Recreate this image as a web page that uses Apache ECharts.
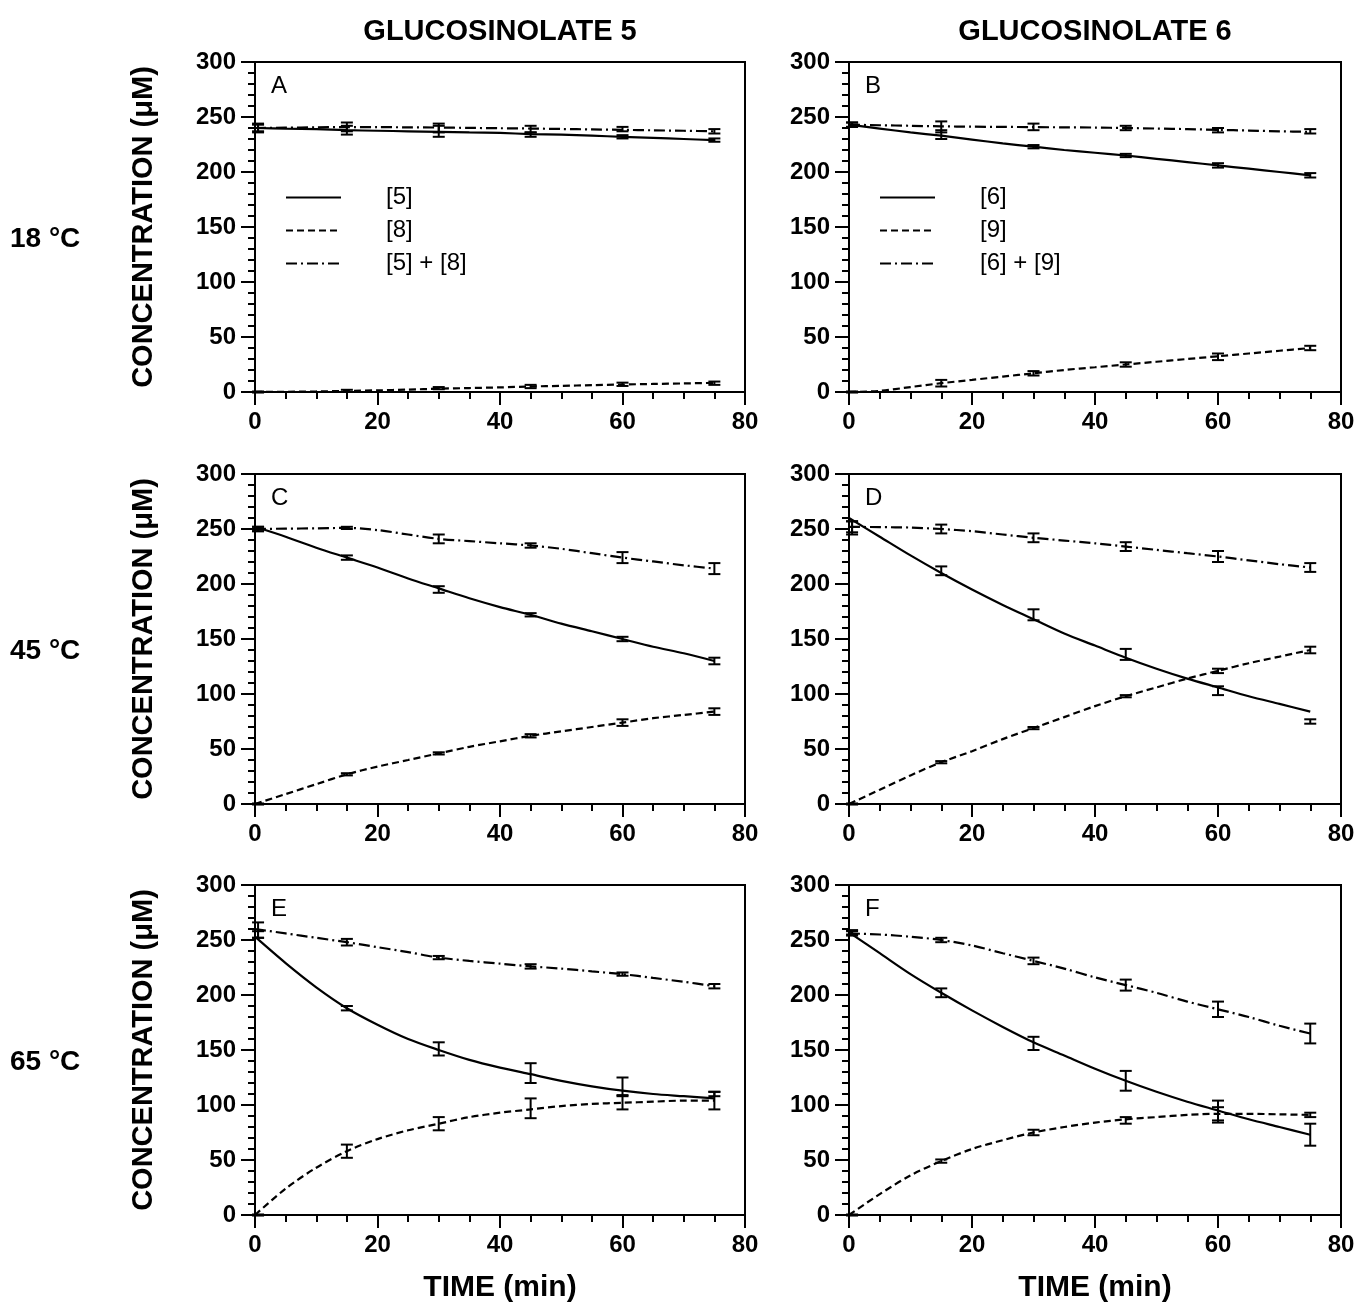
<!DOCTYPE html>
<html><head><meta charset="utf-8">
<script src="https://cdn.jsdelivr.net/npm/echarts@6/dist/echarts.min.js"></script>
<style>html,body{margin:0;padding:0;background:#fff}#c{width:1358px;height:1304px}</style>
</head><body><div id="c"></div>
<script>
// ---------- data ----------
const curveX = [0,5,10,15,20,25,30,35,40,45,50,55,60,65,70,75];
const pointX = [0.5,15,30,45,60,75];

// Panel A (glucosinolate 5, 18 °C)
const A_main = [240,239.5,239,238,237.5,237,236.5,236,235.5,234.5,234,233,232,231,230,229];
const A_prod = [0,0.2,0.5,1,1.5,2.2,3,3.6,4.2,5,5.6,6.2,6.8,7.3,7.8,8.3];
const A_sum  = [240,240.3,240.6,240.8,240.8,240.6,240.4,240.1,239.8,239.5,239.1,238.7,238.3,237.9,237.5,237];
const A_mainPts = [240,238,237,234,232,229], A_mainErr = [4,4,5,2,1.5,1.5];
const A_prodPts = [0,1,3.5,5,7,8],           A_prodErr = [0.5,1,1,1.5,1.5,1.5];
const A_sumPts  = [240,241,240,239,239,237], A_sumErr  = [3,4,4,3,2,2];

// Panel B (glucosinolate 6, 18 °C)
const B_main = [243,239.5,236,233,229.5,226,223,220,217.5,215,212,209,206,203,200,197];
const B_prod = [0,1,4.5,8,11,14,17,20,22.5,25,27.5,30,32.5,35,37.5,40];
const B_sum  = [243,242.5,242,241.5,241.2,241,240.8,240.6,240.4,240,239.5,239,238.3,237.7,237,236.5];
const B_mainPts = [243,234,223,215,206,197], B_mainErr = [2,4,1.5,1.5,2,2];
const B_prodPts = [0,8,17,25,32,40],         B_prodErr = [0.5,3,2,2,3,2];
const B_sumPts  = [243,241,241,240,238,237], B_sumErr  = [2,5,3,2,2,2];

// Panel C (glucosinolate 5, 45 °C)
const C_main = [252,243,233,224,215,205,196,187,179,172,164,157,150,143,137,130];
const C_prod = [0,9,18,27,34,40,46,52,57,62,66,70,74,78,81,84];
const C_sum  = [250,250.3,250.6,251,249,245,241,239,237,235,232,228,224,220.5,217,214];
const C_mainPts = [250,224,195,172,150,130], C_mainErr = [2,2,3,1.5,2,3];
const C_prodPts = [0,27,46,62,74,84],        C_prodErr = [0.5,1,1,1.5,3,3];
const C_sumPts  = [250,251,241,235,224,214], C_sumErr  = [2,1,4,2,5,5];

// Panel D (glucosinolate 6, 45 °C)
const D_main = [260,243,226,210,195,181,168,155,144,133,123,114,106,98,91,84];
const D_prod = [0,13,26,38,48,59,69,79,89,98,106,114,121,128,134,140];
const D_sum  = [252,251.7,251.3,250,248,245,242,239.5,237,234,231,228,225,221.5,218,215];
const D_mainPts = [252,212,172,136,103,75],  D_mainErr = [5,4,5,5,4,2];
const D_prodPts = [0,38,69,98,121,140],      D_prodErr = [0.5,1,1,1,2,3];
const D_sumPts  = [251,250,242,234,225,215], D_sumErr  = [6,4,4,4,5,4];

// Panel E (glucosinolate 5, 65 °C)
const E_main = [253,229,207,188,173,160,150,141,134,128,122,117,113,110,108,106];
const E_prod = [0,24,43,58,69,77,83,89,93,96,99,101,102,103,104,104];
const E_sum  = [260,256,252,248,243.5,239,234,231,228.5,226,224,221.5,219,215.5,212,208];
const E_mainPts = [255,188,151,129,117,110], E_mainErr = [3,2,6,9,8,2];
const E_prodPts = [0,58,83,97,102,104],      E_prodErr = [0.5,6,6,9,6,8];
const E_sumPts  = [259,248,234,226,219,208], E_sumErr  = [7,3,1.5,2,1.5,2];

// Panel F (glucosinolate 6, 65 °C)
const F_main = [257,238,219,202,186,171,157,145,133,122,112,103,95,87,80,73];
const F_prod = [0,19,36,49,60,68,75,80,84,87,89,91,92,92,91.5,91];
const F_sum  = [256,255,253,250,245,238,231,224,216,209,202,194,187,180,172,165];
const F_mainPts = [257,202,156,122,94,73],   F_mainErr = [2,4,6,9,10,10];
const F_prodPts = [0,49,75,86,92,91],        F_prodErr = [0.5,1.5,2.5,3,6,2];
const F_sumPts  = [256,250,231,209,187,165], F_sumErr  = [2,2,3,5,7,9];

const xTicks = [0,20,40,60,80];
const yTicks = [0,50,100,150,200,250,300];
const colTitles = ['GLUCOSINOLATE 5','GLUCOSINOLATE 6'];
const rowTitles = ['18 °C','45 °C','65 °C'];
const panelLetters = ['A','B','C','D','E','F'];
const legendA = ['[5]','[8]','[5] + [8]'];
const legendB = ['[6]','[9]','[6] + [9]'];
const yName = 'CONCENTRATION (\u03bcM)';
const xName = 'TIME (min)';

// ---------- chart ----------
const FONT = '"Liberation Sans", Arial, Helvetica, sans-serif';
const panels = [
  {main:A_main,prod:A_prod,sum:A_sum,mp:A_mainPts,me:A_mainErr,pp:A_prodPts,pe:A_prodErr,sp:A_sumPts,se:A_sumErr,names:legendA},
  {main:B_main,prod:B_prod,sum:B_sum,mp:B_mainPts,me:B_mainErr,pp:B_prodPts,pe:B_prodErr,sp:B_sumPts,se:B_sumErr,names:legendB},
  {main:C_main,prod:C_prod,sum:C_sum,mp:C_mainPts,me:C_mainErr,pp:C_prodPts,pe:C_prodErr,sp:C_sumPts,se:C_sumErr,names:['C1','C2','C3']},
  {main:D_main,prod:D_prod,sum:D_sum,mp:D_mainPts,me:D_mainErr,pp:D_prodPts,pe:D_prodErr,sp:D_sumPts,se:D_sumErr,names:['D1','D2','D3']},
  {main:E_main,prod:E_prod,sum:E_sum,mp:E_mainPts,me:E_mainErr,pp:E_prodPts,pe:E_prodErr,sp:E_sumPts,se:E_sumErr,names:['E1','E2','E3']},
  {main:F_main,prod:F_prod,sum:F_sum,mp:F_mainPts,me:F_mainErr,pp:F_prodPts,pe:F_prodErr,sp:F_sumPts,se:F_sumErr,names:['F1','F2','F3']}
];

const colLeft = [255, 849], colWidth = [490, 492];
const rowTop = [62, 474, 885], rowH = 330;

const grids = [], xAxes = [], yAxes = [], series = [], titles = [];
const dashMain = 'solid', dashProd = [7,4], dashSum = [11,4,2,4];

function errSeries(gi, means, errs) {
  return {
    type:'custom', xAxisIndex:gi, yAxisIndex:gi, silent:true, z:4, clip:false,
    data: pointX.map((x,i)=>[x, means[i]-errs[i], means[i]+errs[i]]),
    encode:{x:0, y:[1,2]},
    renderItem(params, api){
      const x = api.value(0);
      const lo = api.coord([x, api.value(1)]);
      const hi = api.coord([x, api.value(2)]);
      const w = 6, st = {stroke:'#000', lineWidth:2};
      return {type:'group', children:[
        {type:'line', shape:{x1:lo[0],y1:lo[1],x2:hi[0],y2:hi[1]}, style:st},
        {type:'line', shape:{x1:lo[0]-w,y1:lo[1],x2:lo[0]+w,y2:lo[1]}, style:st},
        {type:'line', shape:{x1:hi[0]-w,y1:hi[1],x2:hi[0]+w,y2:hi[1]}, style:st}
      ]};
    }
  };
}

panels.forEach((p, gi) => {
  const col = gi % 2, row = Math.floor(gi / 2);
  grids.push({left: colLeft[col], top: rowTop[row], width: colWidth[col], height: rowH,
    show:true, borderColor:'#000', borderWidth:2, backgroundColor:'transparent', containLabel:false});
  xAxes.push({type:'value', gridIndex:gi, min:0, max:80, interval:20,
    axisLine:{show:true, onZero:false, lineStyle:{color:'#000', width:2}},
    axisTick:{show:true, inside:false, length:13, lineStyle:{color:'#000', width:2}},
    minorTick:{show:true, splitNumber:4, length:7, lineStyle:{color:'#000', width:2}},
    splitLine:{show:false},
    axisLabel:{fontSize:24, fontWeight:'bold', color:'#000', fontFamily:FONT, margin:18,
      formatter: v => xTicks.includes(v) ? String(v) : ''},
    name: row === 2 ? xName : '', nameLocation:'middle', nameGap:58,
    nameTextStyle:{fontSize:30, fontWeight:'bold', color:'#000', fontFamily:FONT}
  });
  yAxes.push({type:'value', gridIndex:gi, min:0, max:300, interval:50,
    axisLine:{show:true, onZero:false, lineStyle:{color:'#000', width:2}},
    axisTick:{show:true, inside:false, length:14, lineStyle:{color:'#000', width:2}},
    minorTick:{show:true, splitNumber:5, length:7, lineStyle:{color:'#000', width:2}},
    splitLine:{show:false},
    axisLabel:{fontSize:24, fontWeight:'bold', color:'#000', fontFamily:FONT, margin:19,
      formatter: v => yTicks.includes(v) ? String(v) : ''},
    name: col === 0 ? yName : '', nameLocation:'middle', nameGap:97, nameRotate:90,
    nameTextStyle:{fontSize:29, fontWeight:'bold', color:'#000', fontFamily:FONT}
  });
  const mk = (name, data, type) => ({
    type:'line', name, xAxisIndex:gi, yAxisIndex:gi, smooth:0.3, symbol:'none', silent:true, z:3,
    data: curveX.map((x,i)=>[x, data[i]]),
    lineStyle:{color:'#000', width:2.2, type},
    itemStyle:{color:'#000'}
  });
  series.push(mk(p.names[0], p.main, dashMain));
  series.push(mk(p.names[1], p.prod, dashProd));
  series.push(mk(p.names[2], p.sum, dashSum));
  series.push(errSeries(gi, p.mp, p.me));
  series.push(errSeries(gi, p.pp, p.pe));
  series.push(errSeries(gi, p.sp, p.se));
  titles.push({text: panelLetters[gi], left: colLeft[col] + 16, top: rowTop[row] + 12, padding:0,
    textStyle:{fontSize:24, fontWeight:'normal', color:'#000', fontFamily:FONT}});
});

colTitles.forEach((t, c) => {
  titles.push({text:t, left: colLeft[c] + colWidth[c]/2, textAlign:'center', top:17, padding:0,
    textStyle:{fontSize:29, fontWeight:'bold', color:'#000', fontFamily:FONT}});
});
rowTitles.forEach((t, r) => {
  titles.push({text:t, left:10, top: rowTop[r] + 163, padding:0,
    textStyle:{fontSize:28, fontWeight:'bold', color:'#000', fontFamily:FONT}});
});

const legendCommon = {orient:'vertical', itemWidth:55, itemHeight:14, itemGap:8, selectedMode:false, padding:0,
  itemStyle:{color:'rgba(0,0,0,0)', borderWidth:0, opacity:0},
  textStyle:{fontSize:24, color:'#000', fontFamily:FONT, padding:[0,0,0,40], lineHeight:25}};

const chart = echarts.init(document.getElementById('c'), null, {renderer:'canvas'});
chart.setOption({
  backgroundColor:'#fff',
  animation:false,
  title: titles,
  grid: grids,
  xAxis: xAxes,
  yAxis: yAxes,
  legend: [
    Object.assign({}, legendCommon, {left: 285, top: 185, data: legendA}),
    Object.assign({}, legendCommon, {left: 879, top: 185, data: legendB})
  ],
  series
});
</script></body></html>
